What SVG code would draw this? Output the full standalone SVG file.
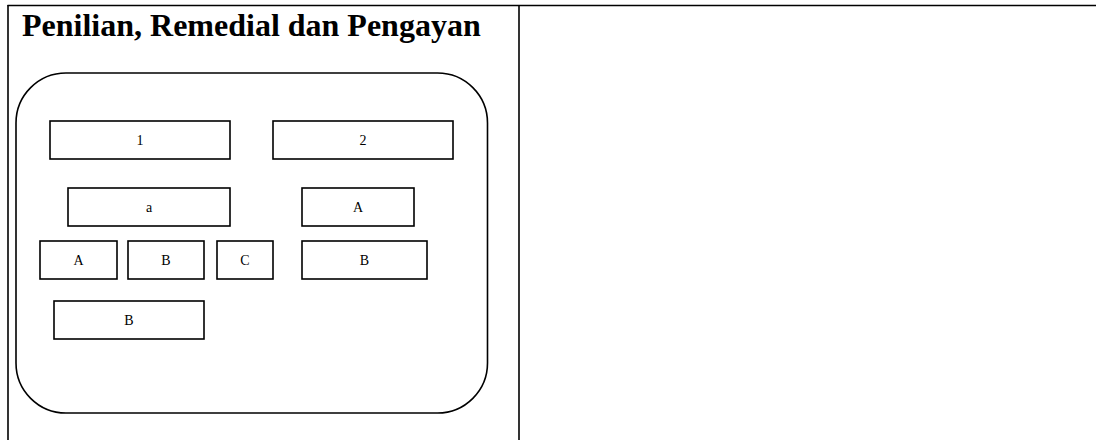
<svg xmlns="http://www.w3.org/2000/svg" width="1096" height="440" viewBox="0 0 1096 440">
<style>
.frame{stroke:#000;stroke-width:1.6;fill:none}
.box{fill:#fff;stroke:#000;stroke-width:1.6}
.lbl{font-family:"Liberation Serif",serif;font-size:14px;text-anchor:middle;fill:#000}
.title{font-family:"Liberation Serif",serif;font-size:32px;font-weight:bold;fill:#000}
</style>
<rect width="1096" height="440" fill="#fff"/>
<g id="frame">
<line class="frame" x1="7.5" y1="5.5" x2="1096" y2="5.5"/>
<line class="frame" x1="8" y1="5" x2="8" y2="440"/>
<line class="frame" x1="519" y1="5" x2="519" y2="440"/>
</g>
<text id="title" class="title" x="22" y="36">Penilian, Remedial dan Pengayan</text>
<rect id="container" class="frame" x="16" y="73" width="471.5" height="340" rx="50" ry="50"/>
<g id="connectors"></g>
<g id="n1"><rect class="box" x="50" y="121" width="180" height="38"/><text class="lbl" x="140" y="145">1</text></g>
<g id="n2"><rect class="box" x="273" y="121" width="180" height="38"/><text class="lbl" x="363" y="145">2</text></g>
<g id="na"><rect class="box" x="68" y="188" width="162" height="38"/><text class="lbl" x="149" y="212">a</text></g>
<g id="nA2"><rect class="box" x="302" y="188" width="112" height="38"/><text class="lbl" x="358" y="212">A</text></g>
<g id="nA"><rect class="box" x="40" y="241" width="77" height="38"/><text class="lbl" x="78.5" y="265">A</text></g>
<g id="nB"><rect class="box" x="128" y="241" width="76" height="38"/><text class="lbl" x="166" y="265">B</text></g>
<g id="nC"><rect class="box" x="217" y="241" width="56" height="38"/><text class="lbl" x="245" y="265">C</text></g>
<g id="nB2"><rect class="box" x="302" y="241" width="125" height="38"/><text class="lbl" x="364.5" y="265">B</text></g>
<g id="nB3"><rect class="box" x="54" y="301" width="150" height="38"/><text class="lbl" x="129" y="325">B</text></g>
</svg>
